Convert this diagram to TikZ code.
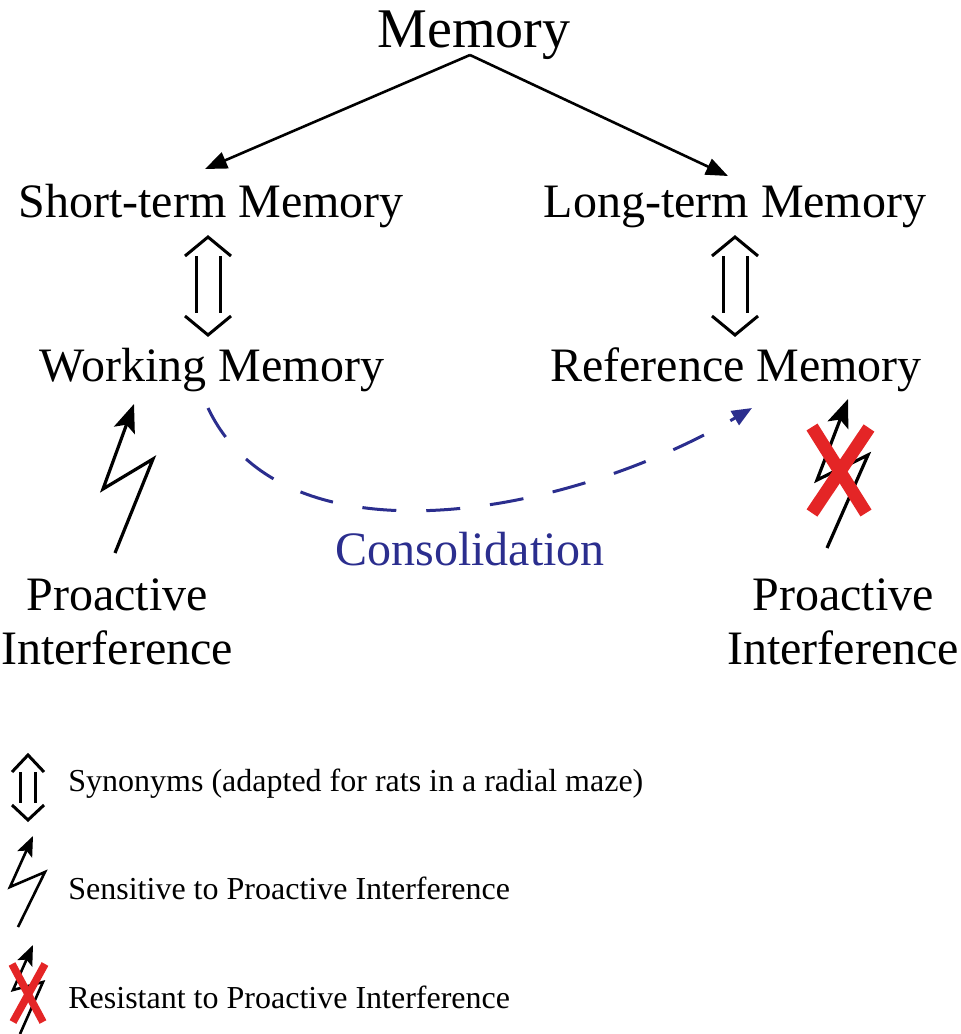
\documentclass[tikz,border=0pt]{standalone}
\usepackage{fontspec}
\setmainfont{Liberation Serif}
\usetikzlibrary{arrows.meta}
\definecolor{consblue}{RGB}{43,46,142}
\definecolor{xred}{RGB}{228,37,38}
\tikzset{
  lbl/.style={anchor=base, inner sep=0pt, font=\fontsize{24}{28}\selectfont},
  toplbl/.style={anchor=base, inner sep=0pt, font=\fontsize{28}{32}\selectfont},
  leglbl/.style={anchor=base west, inner sep=0pt, font=\fontsize{16}{19}\selectfont},
  treearrow/.style={line width=1.3pt, -{Triangle[length=11pt,width=8.5pt]}},
  synline/.style={line width=1.5pt},
  boltbig/.style={line width=1.6pt, line join=miter, -{Stealth[length=14pt,width=11pt,inset=3pt]}},
  boltsmall/.style={line width=1.3pt, line join=miter, -{Stealth[length=10pt,width=8pt,inset=2pt]}},
  crossbig/.style={xred, line width=6.5pt},
  crosssmall/.style={xred, line width=3.8pt},
  consarrow/.style={consblue, line width=1.5pt, dash pattern=on 17pt off 15pt, -{Triangle[length=10pt,width=8pt]}}
}
\begin{document}
\begin{tikzpicture}[x=0.5pt,y=-0.5pt]
\useasboundingbox (0,0) rectangle (960,1034);

% titles
\node[toplbl] (mem) at (474,47) {Memory};
\node[lbl] (stm) at (211,217) {Short-term Memory};
\node[lbl] (ltm) at (735,217) {Long-term Memory};
\node[lbl] (wm) at (212,381) {Working Memory};
\node[lbl] (rm) at (736,381) {Reference Memory};
\node[lbl, text=consblue] (cons) at (470,565) {Consolidation};
\node[lbl] (pil1) at (117,610) {Proactive};
\node[lbl] (pil2) at (117,664) {Interference};
\node[lbl] (pir1) at (843,610) {Proactive};
\node[lbl] (pir2) at (843,664) {Interference};

% tree arrows
\coordinate (apex) at (470,55);
\coordinate (stmtop) at (205,169);
\coordinate (ltmtop) at (728,176);
\draw[treearrow, line join=miter] (apex) -- (stmtop);
\draw[treearrow] (apex) -- (ltmtop);

% synonym double arrows
\foreach \cx in {208,735}{
  \draw[synline, line join=miter] (\cx-23,256) -- (\cx,237) -- (\cx+23,256);
  \draw[synline, line join=miter] (\cx-23,316) -- (\cx,335) -- (\cx+23,316);
  \draw[synline] (\cx-12,256) -- (\cx-12,313);
  \draw[synline] (\cx+12,256) -- (\cx+12,313);
}

% consolidation
\coordinate (cs) at (208,408);
\coordinate (ce) at (752,408);
\draw[consarrow] (cs) .. controls (285,570) and (570,515) .. (ce);

% left bolt
\coordinate (lb0) at (115,553);
\coordinate (lb1) at (153,459);
\coordinate (lb2) at (103,489);
\coordinate (lb3) at (134,404);
\draw[boltbig] (lb0) -- (lb1) -- (lb2) -- (lb3);

% right bolt with cross
\coordinate (rb0) at (827,548);
\coordinate (rb1) at (868,455);
\coordinate (rb2) at (817,480);
\coordinate (rb3) at (848,399);
\draw[boltbig] (rb0) -- (rb1) -- (rb2) -- (rb3);
\coordinate (xa) at (812,427);
\coordinate (xb) at (866,513);
\coordinate (xc) at (869,428);
\coordinate (xd) at (812,513);
\draw[crossbig] (xa) -- (xb);
\draw[crossbig] (xc) -- (xd);

% legend
\draw[synline, line join=miter] (12,772) -- (28,755) -- (44,772);
\draw[synline, line join=miter] (12,805) -- (28,820) -- (44,805);
\draw[synline] (20.5,772) -- (20.5,803);
\draw[synline] (35.5,772) -- (35.5,803);
\node[leglbl] (leg1) at (68,791) {Synonyms (adapted for rats in a radial maze)};

\coordinate (s0) at (18,927);
\coordinate (s1) at (45,872);
\coordinate (s2) at (10,887);
\coordinate (s3) at (33,836);
\draw[boltsmall] (s0) -- (s1) -- (s2) -- (s3);
\node[leglbl] (leg2) at (68,899) {Sensitive to Proactive Interference};

\coordinate (r0) at (20,1034);
\coordinate (r1) at (43,982);
\coordinate (r2) at (13,990);
\coordinate (r3) at (33,945);
\draw[boltsmall] (r0) -- (r1) -- (r2) -- (r3);
\coordinate (ya) at (12,964);
\coordinate (yb) at (43,1022);
\coordinate (yc) at (45,964);
\coordinate (yd) at (13,1022);
\draw[crosssmall] (ya) -- (yb);
\draw[crosssmall] (yc) -- (yd);
\node[leglbl] (leg3) at (68,1008) {Resistant to Proactive Interference};
\end{tikzpicture}
\end{document}
